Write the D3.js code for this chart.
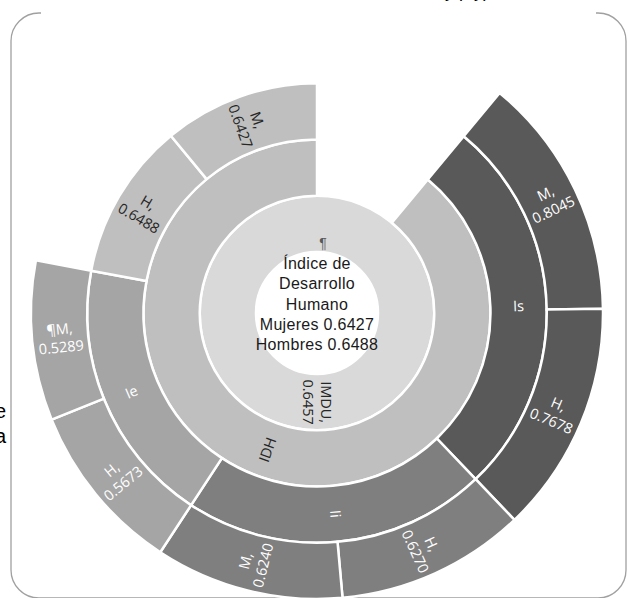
<!DOCTYPE html>
<html>
<head>
<meta charset="utf-8">
<script src="https://cdn.jsdelivr.net/npm/d3@7"></script>
<style>
  body { margin: 0; background: #fff; }
  svg { display: block; }
</style>
</head>
<body>
<div id="chart"></div>
<script>
// values
const imduLabel = "IMDU";
const imduValue = 0.6457;
const subIndices = ["Is", "Ii", "Ie"];
const subSexes = [["M", "H"], ["H", "M"], ["H", "¶M"]];
const subValues = [[0.8045, 0.7678], [0.6270, 0.6240], [0.5673, 0.5289]];
const idhSexes = ["H", "M"];
const idhValues = [0.6488, 0.6427];
const centerLines = ["Índice de", "Desarrollo", "Humano", "Mujeres 0.6427", "Hombres 0.6488"];

const subColors = ["#595959", "#7f7f7f", "#a5a5a5"];

const width = 628, height = 598;
const cx = 317, cy = 313;

const svg = d3.select("#chart")
    .append("svg")
    .attr("width", width)
    .attr("height", height);

// frame (top edge hidden in the picture)
const fr = { x0: 11, y0: 13, x1: 626, y1: 598, r: 28 };
const p = d3.path();
p.moveTo(fr.x0 + fr.r + 2, fr.y0);
p.arcTo(fr.x0, fr.y0, fr.x0, fr.y0 + fr.r, fr.r);
p.lineTo(fr.x0, fr.y1 - fr.r);
p.arcTo(fr.x0, fr.y1, fr.x0 + fr.r, fr.y1, fr.r);
p.lineTo(fr.x1 - fr.r, fr.y1);
p.arcTo(fr.x1, fr.y1, fr.x1, fr.y1 - fr.r, fr.r);
p.lineTo(fr.x1, fr.y0 + fr.r);
p.arcTo(fr.x1, fr.y0, fr.x1 - fr.r, fr.y0, fr.r);
p.lineTo(fr.x1 - fr.r - 2, fr.y0);
svg.append("path")
    .attr("d", p.toString())
    .attr("fill", "none")
    .attr("stroke", "#a0a0a0")
    .attr("stroke-width", 1.3);

// cut off text from the page around the chart
svg.append("text")
    .attr("x", 6).attr("y", 418)
    .attr("text-anchor", "end")
    .style("font", "20px 'Liberation Sans'")
    .text("e");
svg.append("text")
    .attr("x", 6).attr("y", 443)
    .attr("text-anchor", "end")
    .style("font", "20px 'Liberation Sans'")
    .text("a");
svg.append("text")
    .attr("x", 445).attr("y", -3)
    .style("font", "18px 'Liberation Sans'")
    .text("y p y)");

// hierarchy
const idhChildren = subIndices.map((name, i) => ({
    name: name,
    group: i,
    children: subSexes[i].map((s, j) => ({ name: s, value: subValues[i][j] }))
})).concat(idhSexes.map((s, i) => ({ name: s, value: idhValues[i] })));

const tree = {
    name: "root",
    children: [{
        name: imduLabel,
        ownValue: imduValue,
        children: [
            { name: "", blank: true, value: imduValue },
            { name: "IDH", children: idhChildren }
        ]
    }]
};

const root = d3.hierarchy(tree).sum(d => d.value || 0);
d3.partition().size([2 * Math.PI, 5])(root);

const radius = d3.scaleLinear().domain([1, 5]).range([61, 286]);

const arc = d3.arc()
    .startAngle(d => d.x0)
    .endAngle(d => d.x1)
    .innerRadius(d => radius(d.y0))
    .outerRadius(d => radius(d.y1));

function branch(d) {
    const a = d.ancestors().find(n => n.depth === 3 && n.data.group !== undefined);
    return a ? a.data.group : -1;
}
function fillOf(d) {
    if (d.depth === 1) return "#d9d9d9";
    const g = branch(d);
    return g >= 0 ? subColors[g] : "#bfbfbf";
}

const nodes = root.descendants().filter(d => d.depth > 0 && !d.data.blank);

const g = svg.append("g").attr("transform", `translate(${cx},${cy})`);

g.selectAll("path.seg")
    .data(nodes)
    .enter()
    .append("path")
    .attr("class", "seg")
    .attr("d", arc)
    .attr("fill", fillOf)
    .attr("stroke", "#fff")
    .attr("stroke-width", 2.5);

// labels
const labels = g.selectAll("g.lab")
    .data(nodes)
    .enter()
    .append("g")
    .attr("class", "lab")
    .attr("transform", d => {
        const a = (d.x0 + d.x1) / 2;
        const r = radius((d.y0 + d.y1) / 2);
        let rot = a * 180 / Math.PI - 90;
        if (rot > 90) rot -= 180;
        return `translate(${r * Math.sin(a)},${-r * Math.cos(a)}) rotate(${rot})`;
    });

labels.each(function (d) {
    let lines;
    if (d.data.ownValue !== undefined) lines = [d.data.name + ",", d.data.ownValue.toFixed(4)];
    else if (!d.children) lines = [d.data.name + ",", d.data.value.toFixed(4)];
    else lines = [d.data.name];
    const t = d3.select(this).append("text")
        .attr("text-anchor", "middle")
        .attr("fill", branch(d) >= 0 ? "#ffffff" : "#262626")
        .style("font", "14.5px 'Open Sans'");
    const lh = 18;
    lines.forEach((l, i) => {
        t.append("tspan")
            .attr("x", 0)
            .attr("y", (i - (lines.length - 1) / 2) * lh)
            .attr("dy", "0.35em")
            .text(l);
    });
});

// center text
svg.append("text")
    .attr("x", 323).attr("y", 248)
    .attr("text-anchor", "middle")
    .attr("fill", "#595959")
    .style("font", "14px 'Liberation Sans'")
    .text("¶");

svg.append("g")
    .selectAll("text")
    .data(centerLines)
    .enter()
    .append("text")
    .attr("x", cx)
    .attr("y", (d, i) => 269 + i * 20.3)
    .attr("text-anchor", "middle")
    .attr("fill", "#1a1a1a")
    .style("font", "16px 'Liberation Sans'")
    .style("letter-spacing", "0.3px")
    .text(d => d);
</script>
</body>
</html>
